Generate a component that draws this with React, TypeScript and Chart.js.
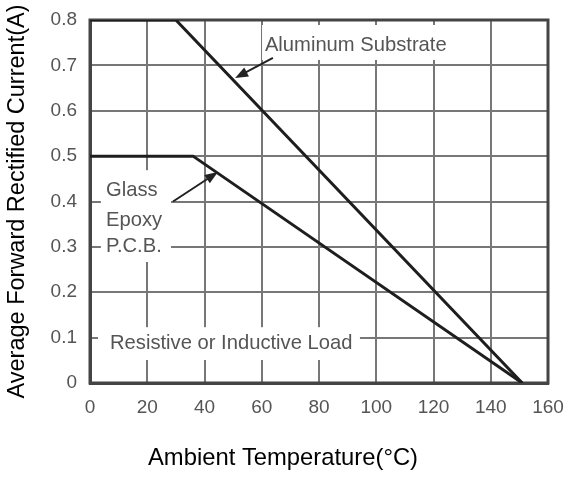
import React, { useEffect, useRef } from "react";
import { Chart, registerables } from "chart.js";

Chart.register(...registerables);

// Data
const aluminumTemp = [0, 30, 151];
const aluminumCurrent = [0.8, 0.8, 0];
const glassTemp = [0, 36, 151];
const glassCurrent = [0.5, 0.5, 0];

const xTickValues = [0, 20, 40, 60, 80, 100, 120, 140, 160];
const yTickLabels = ["0", "0.1", "0.2", "0.3", "0.4", "0.5", "0.6", "0.7", "0.8"];

const xTitle = "Ambient Temperature(°C)";
const yTitle = "Average Forward Rectified Current(A)";

const FONT = "'Liberation Sans', Arial, sans-serif";

const annotationPlugin = {
  id: "annotations",
  beforeDatasetsDraw(chart: any) {
    const { ctx, chartArea, scales } = chart;
    const X = (v: number) => scales.x.getPixelForValue(v);
    const Y = (v: number) => scales.y.getPixelForValue(v);
    ctx.save();
    // white label backgrounds (break the grid)
    ctx.fillStyle = "#ffffff";
    const boxes = [
      [60.1, 125.8, 0.789, 0.712],
      [3.8, 28.3, 0.469, 0.2667],
      [2.8, 94.3, 0.123, 0.0507],
    ];
    for (const [x0, x1, y0, y1] of boxes) {
      ctx.fillRect(X(x0), Y(y0), X(x1) - X(x0), Y(y1) - Y(y0));
    }
    // frame
    ctx.strokeStyle = "#444";
    ctx.lineWidth = 3;
    ctx.strokeRect(
      chartArea.left,
      chartArea.top,
      chartArea.right - chartArea.left,
      chartArea.bottom - chartArea.top
    );
    ctx.restore();
  },
  afterDraw(chart: any) {
    const { ctx, scales } = chart;
    const X = (v: number) => scales.x.getPixelForValue(v);
    const Y = (v: number) => scales.y.getPixelForValue(v);
    ctx.save();
    ctx.fillStyle = "#555";
    ctx.font = `20.2px ${FONT}`;
    ctx.textBaseline = "middle";
    ctx.textAlign = "left";
    ctx.fillText("Aluminum Substrate", X(61.1), Y(0.745));
    ctx.fillText("Glass", X(5.6), Y(0.425));
    ctx.fillText("Epoxy", X(5.6), Y(0.359));
    ctx.fillText("P.C.B.", X(5.6), Y(0.3));
    ctx.fillText("Resistive or Inductive Load", X(7.0), Y(0.088));

    const arrow = (x0: number, y0: number, x1: number, y1: number) => {
      const ax = X(x0), ay = Y(y0), bx = X(x1), by = Y(y1);
      const ang = Math.atan2(by - ay, bx - ax);
      const len = 13, w = 5;
      ctx.strokeStyle = "#222";
      ctx.lineWidth = 2;
      ctx.beginPath();
      ctx.moveTo(ax, ay);
      ctx.lineTo(bx - Math.cos(ang) * len * 0.8, by - Math.sin(ang) * len * 0.8);
      ctx.stroke();
      ctx.fillStyle = "#222";
      ctx.beginPath();
      ctx.moveTo(bx, by);
      ctx.lineTo(
        bx - Math.cos(ang) * len - Math.sin(ang) * w,
        by - Math.sin(ang) * len + Math.cos(ang) * w
      );
      ctx.lineTo(
        bx - Math.cos(ang) * len + Math.sin(ang) * w,
        by - Math.sin(ang) * len - Math.cos(ang) * w
      );
      ctx.closePath();
      ctx.fill();
    };
    arrow(63.9, 0.7163, 50.7, 0.672);
    arrow(29.0, 0.4, 44.7, 0.465);

    // x axis title, centred on the canvas
    ctx.fillStyle = "#000";
    ctx.font = `23.8px ${FONT}`;
    ctx.textAlign = "center";
    ctx.fillText(xTitle, chart.width / 2, 458);
    ctx.restore();
  },
};

export default function App() {
  const canvasRef = useRef<HTMLCanvasElement | null>(null);

  useEffect(() => {
    if (!canvasRef.current) return;
    const chart = new Chart(canvasRef.current, {
      type: "line",
      data: {
        datasets: [
          {
            label: "Aluminum Substrate",
            data: aluminumTemp.map((t, i) => ({ x: t, y: aluminumCurrent[i] })),
            borderColor: "#1e1e1e",
            borderWidth: 3,
            pointRadius: 0,
            tension: 0,
          },
          {
            label: "Glass Epoxy P.C.B.",
            data: glassTemp.map((t, i) => ({ x: t, y: glassCurrent[i] })),
            borderColor: "#1e1e1e",
            borderWidth: 3,
            pointRadius: 0,
            tension: 0,
          },
        ],
      },
      options: {
        animation: false,
        responsive: false,
        layout: { padding: 0 },
        plugins: { legend: { display: false }, tooltip: { enabled: false } },
        scales: {
          x: {
            type: "linear",
            min: 0,
            max: 160,
            afterFit(scale: any) {
              scale.height = 94;
              scale.paddingLeft = 0;
              scale.paddingRight = 18;
            },
            afterBuildTicks(scale: any) {
              scale.ticks = xTickValues.map((v) => ({ value: v }));
            },
            ticks: {
              color: "#555",
              font: { family: FONT, size: 19 },
              padding: 13,
              maxRotation: 0,
            },
            grid: { color: "#777", lineWidth: 2, drawTicks: false },
            border: { display: true, color: "#444", width: 3 },
          },
          y: {
            type: "linear",
            min: 0,
            max: 0.8,
            afterFit(scale: any) {
              scale.width = 90;
              scale.paddingTop = 20;
              scale.paddingBottom = 0;
            },
            ticks: {
              stepSize: 0.1,
              color: "#555",
              font: { family: FONT, size: 19 },
              padding: 13,
              callback: (_v: any, i: number) => yTickLabels[i],
            },
            grid: { color: "#777", lineWidth: 2, drawTicks: false },
            border: { display: true, color: "#444", width: 3 },
            title: {
              display: true,
              text: yTitle,
              color: "#000",
              font: { family: FONT, size: 23.5 },
              padding: { top: 3, bottom: 0 },
            },
          },
        },
      },
      plugins: [annotationPlugin],
    });
    return () => chart.destroy();
  }, []);

  return (
    <div style={{ position: "absolute", left: 0, top: 0, width: 566, height: 477, background: "#fff" }}>
      <canvas ref={canvasRef} width={566} height={477} style={{ width: 566, height: 477 }} />
    </div>
  );
}
